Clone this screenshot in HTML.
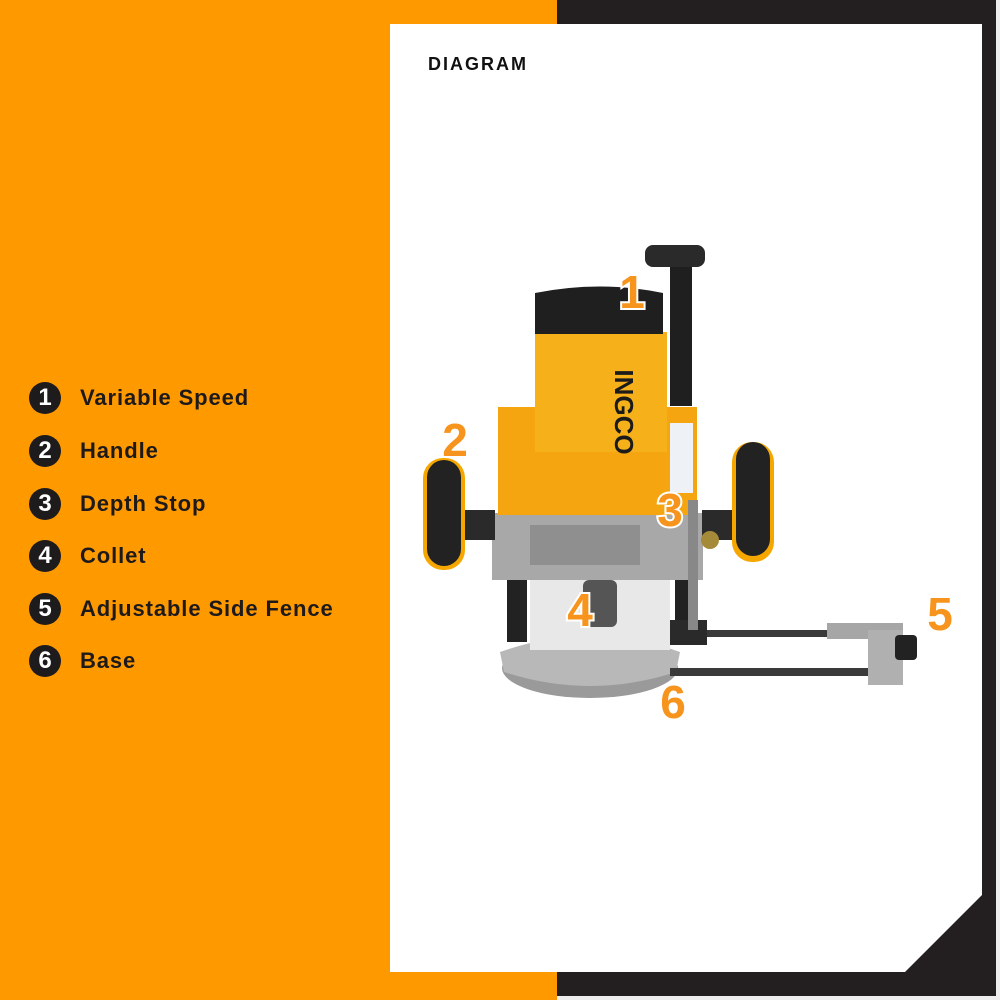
<!DOCTYPE html>
<html><head><meta charset="utf-8"><style>
body{margin:0;width:1000px;height:1000px;overflow:hidden;background:#FF9900;font-family:"Liberation Sans",sans-serif;position:relative}
.dark{position:absolute;left:557px;top:0;width:439px;height:996px;background:#231F20}
.edge{position:absolute;left:996px;top:0;width:4px;height:1000px;background:#eee}
.edge2{position:absolute;left:557px;top:996px;width:443px;height:4px;background:#eee}
.item{position:absolute;left:29px;height:32px;display:flex;align-items:center}
.c{width:32px;height:32px;border-radius:50%;background:#1e1b1c;color:#fff;font-weight:bold;font-size:24px;display:flex;align-items:center;justify-content:center;box-sizing:border-box}
.t{margin-left:19px;font-weight:bold;font-size:22px;color:#1e1a1a;letter-spacing:0.9px}
</style></head><body>
<div class="dark"></div><div class="edge"></div><div class="edge2"></div>
<svg style="position:absolute;left:0;top:0" width="1000" height="1000">
<polygon points="390,24 982,24 982,895 905,972 390,972" fill="#fff"/>
<text x="428" y="70" font-family="Liberation Sans" font-weight="bold" font-size="18" letter-spacing="2" fill="#111">DIAGRAM</text>
<ellipse cx="590" cy="668" rx="88" ry="30" fill="#9a9a9a"/>
<path d="M500,652 Q590,620 680,652 L676,672 Q590,700 504,672Z" fill="#b8b8b8"/>
<rect x="693" y="630" width="150" height="7" fill="#3a3a3a"/>
<rect x="670" y="668" width="200" height="8" fill="#3a3a3a"/>
<rect x="827" y="623" width="76" height="16" fill="#a6a6a6"/>
<rect x="868" y="630" width="35" height="55" fill="#b0b0b0"/>
<rect x="895" y="635" width="22" height="25" rx="4" fill="#222"/>
<rect x="507" y="580" width="20" height="62" fill="#222"/>
<rect x="675" y="580" width="20" height="62" fill="#222"/>
<rect x="662" y="620" width="45" height="25" fill="#2a2a2a"/>
<rect x="530" y="580" width="140" height="70" fill="#e8e8e8"/>
<rect x="583" y="580" width="34" height="47" rx="6" fill="#555"/>
<rect x="492" y="513" width="211" height="67" fill="#a8a8a8"/>
<rect x="530" y="525" width="110" height="40" fill="#8f8f8f"/>
<rect x="463" y="510" width="32" height="30" fill="#2a2a2a"/>
<rect x="702" y="510" width="32" height="30" fill="#2a2a2a"/>
<rect x="423" y="458" width="42" height="112" rx="20" fill="#F5A700"/>
<rect x="427" y="460" width="34" height="106" rx="17" fill="#222"/>
<rect x="732" y="442" width="42" height="120" rx="20" fill="#F5A700"/>
<rect x="736" y="442" width="34" height="114" rx="17" fill="#222"/>
<rect x="498" y="407" width="199" height="108" fill="#F4A510"/>
<rect x="535" y="332" width="132" height="120" fill="#F6B019"/>
<path d="M535,293 Q600,280 663,293 L663,334 L535,334Z" fill="#1f1f1f"/>
<text x="615" y="412" transform="rotate(90 615 412)" font-family="Liberation Sans" font-weight="bold" font-size="26" fill="#1b1b1b" text-anchor="middle">INGCO</text>
<rect x="670" y="263" width="22" height="143" fill="#1f1f1f"/>
<rect x="645" y="245" width="60" height="22" rx="8" fill="#2a2a2a"/>
<rect x="670" y="423" width="23" height="70" fill="#eef2f6"/>
<rect x="688" y="500" width="10" height="130" fill="#888"/>
<circle cx="710" cy="540" r="9" fill="#a58a3a"/>
<g font-family="Liberation Sans" font-weight="bold" font-size="46" fill="#F7941D" stroke="#fff" stroke-width="4" paint-order="stroke" text-anchor="middle">
<text x="632" y="308">1</text>
<text x="455" y="456">2</text>
<text x="670" y="526">3</text>
<text x="580" y="626">4</text>
<text x="940" y="630">5</text>
<text x="673" y="718">6</text>
</g>
</svg>
<div class="item" style="top:382px"><div class="c">1</div><div class="t">Variable Speed</div></div>
<div class="item" style="top:435px"><div class="c">2</div><div class="t">Handle</div></div>
<div class="item" style="top:488px"><div class="c">3</div><div class="t">Depth Stop</div></div>
<div class="item" style="top:540px"><div class="c">4</div><div class="t">Collet</div></div>
<div class="item" style="top:593px"><div class="c">5</div><div class="t">Adjustable Side Fence</div></div>
<div class="item" style="top:645px"><div class="c">6</div><div class="t">Base</div></div>
</body></html>
